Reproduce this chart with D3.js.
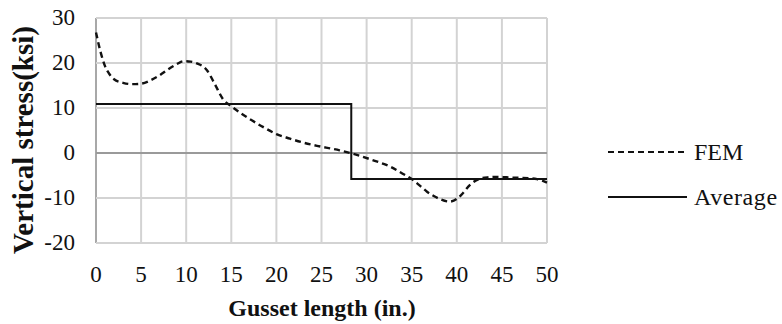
<!DOCTYPE html>
<html>
<head>
<meta charset="utf-8">
<script src="https://cdn.jsdelivr.net/npm/d3@7"></script>
<style>
  body { margin: 0; background: #fff; }
</style>
</head>
<body>
<svg id="svg1" width="782" height="324"></svg>
<script>
// FEM curve
var femX = [0, 0.5, 1, 1.5, 2, 3, 4, 5, 6, 7, 8, 9, 9.7, 10.5, 11.2, 12.3, 13.2, 14.1, 15, 16, 17, 18.5, 20, 21.5, 23, 24.5, 26, 27, 28.2, 29.5, 31, 32.6, 34, 35, 36, 36.7, 37.5, 38.2, 39.2, 40, 40.5, 41.5, 42.6, 43.5, 44.5, 45.5, 46.6, 48, 48.9, 50];
var femY = [26.8, 22.5, 19.3, 17.5, 16.4, 15.6, 15.3, 15.4, 16.1, 17.2, 18.6, 19.8, 20.4, 20.3, 19.9, 18.4, 15.2, 11.9, 10.4, 8.9, 7.6, 5.8, 4.2, 3.2, 2.3, 1.6, 1.0, 0.6, 0, -0.8, -1.8, -3.0, -4.6, -5.8, -7.4, -8.6, -9.6, -10.3, -10.8, -10.2, -9.3, -7.0, -5.7, -5.4, -5.3, -5.4, -5.5, -5.6, -5.8, -6.6];

// average line (step)
var avgX = [0, 28.3, 28.3, 50];
var avgY = [10.9, 10.9, -5.8, -5.8];

var xTicks = [0, 5, 10, 15, 20, 25, 30, 35, 40, 45, 50];
var yTicks = [-20, -10, 0, 10, 20, 30];

var legendNames = ["FEM", "Average"];

var serif = '"Liberation Serif", "Times New Roman", serif';
var ink = '#111';

var svg = d3.select('svg');

var x = d3.scaleLinear().domain([0, 50]).range([96, 547]);
var y = d3.scaleLinear().domain([-20, 30]).range([243, 18]);

// grid
var grid = svg.append('g');
grid.selectAll('line.v')
    .data(xTicks)
    .enter().append('line')
    .attr('x1', function(d) { return x(d); })
    .attr('x2', function(d) { return x(d); })
    .attr('y1', y(30)).attr('y2', y(-20))
    .attr('stroke', function(d) { return d === 0 ? '#a8a8a8' : '#d3d3d3'; })
    .attr('stroke-width', 2);
grid.selectAll('line.h')
    .data(yTicks)
    .enter().append('line')
    .attr('x1', x(0)).attr('x2', x(50))
    .attr('y1', function(d) { return y(d); })
    .attr('y2', function(d) { return y(d); })
    .attr('stroke', function(d) { return d === 0 ? '#9a9a9a' : '#d3d3d3'; })
    .attr('stroke-width', 2);

// tick labels
svg.append('g').selectAll('text')
    .data(xTicks)
    .enter().append('text')
    .attr('x', function(d) { return x(d); })
    .attr('y', 282)
    .attr('text-anchor', 'middle')
    .style('font-family', serif).style('fill', ink)
    .style('font-size', '23px')
    .text(function(d) { return d; });

svg.append('g').selectAll('text')
    .data(yTicks)
    .enter().append('text')
    .attr('x', 75)
    .attr('y', function(d) { return y(d) + 7; })
    .attr('text-anchor', 'end')
    .style('font-family', serif).style('fill', ink)
    .style('font-size', '23px')
    .text(function(d) { return d; });

// axis titles
svg.append('text')
    .attr('x', 322).attr('y', 316)
    .attr('text-anchor', 'middle')
    .style('font-family', serif).style('fill', ink)
    .style('font-size', '24px').style('font-weight', 'bold')
    .text('Gusset length (in.)');

svg.append('text')
    .attr('transform', 'translate(33,140) rotate(-90)')
    .attr('text-anchor', 'middle')
    .style('font-family', serif).style('fill', ink)
    .style('font-size', '29px').style('font-weight', 'bold')
    .text('Vertical stress(ksi)');

// lines
var femLine = d3.line()
    .x(function(d, i) { return x(femX[i]); })
    .y(function(d) { return y(d); })
    .curve(d3.curveMonotoneX);

svg.append('path')
    .attr('d', femLine(femY))
    .attr('fill', 'none')
    .attr('stroke', ink)
    .attr('stroke-width', 2.4)
    .attr('stroke-dasharray', '6,4');

var avgLine = d3.line()
    .x(function(d, i) { return x(avgX[i]); })
    .y(function(d) { return y(d); });

svg.append('path')
    .attr('d', avgLine(avgY))
    .attr('fill', 'none')
    .attr('stroke', ink)
    .attr('stroke-width', 2);

// legend
var legend = svg.append('g').selectAll('g')
    .data(legendNames)
    .enter().append('g')
    .attr('transform', function(d, i) { return 'translate(0,' + (152 + i * 45) + ')'; });

legend.append('line')
    .attr('x1', 608).attr('x2', 687)
    .attr('y1', 0).attr('y2', 0)
    .attr('stroke', ink)
    .attr('stroke-width', 2)
    .attr('stroke-dasharray', function(d, i) { return i === 0 ? '6,4' : null; });

legend.append('text')
    .attr('x', 694).attr('y', 8)
    .style('font-family', serif).style('fill', ink)
    .style('font-size', '24px')
    .style('letter-spacing', function(d, i) { return i === 1 ? '0.6px' : null; })
    .text(function(d) { return d; });
</script>
</body>
</html>
